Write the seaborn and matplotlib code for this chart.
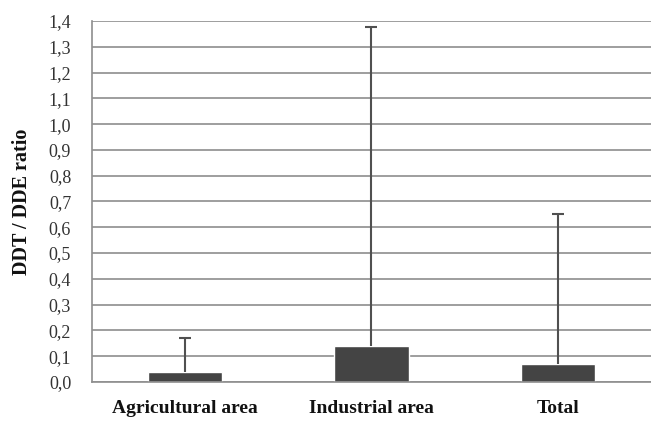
import numpy as np
import pandas as pd
import seaborn as sns
import matplotlib.pyplot as plt

# values
areas = ["Agricultural area", "Industrial area", "Total"]
ratio_mean = [0.04, 0.14, 0.07]
ratio_err_up = [0.13, 1.235, 0.58]   # plus-only error bars
ytick_vals = [0.0, 0.1, 0.2, 0.3, 0.4, 0.5, 0.6, 0.7, 0.8, 0.9, 1.0, 1.1, 1.2, 1.3, 1.4]
ytick_labels = ["0,0", "0,1", "0,2", "0,3", "0,4", "0,5", "0,6", "0,7",
                "0,8", "0,9", "1,0", "1,1", "1,2", "1,3", "1,4"]

df = pd.DataFrame({"area": areas, "ratio": ratio_mean})

sns.set_style("white")
plt.rcParams["font.family"] = ["Liberation Serif", "DejaVu Serif"]

fig = plt.figure(figsize=(6.51, 4.23), dpi=100)
ax = fig.add_axes([0.1413, 0.0969, 0.8587, 0.8535])

# gridlines behind the bars
for v in ytick_vals:
    ax.axhline(v, color="#8e8e8e", lw=1.2, zorder=0)

sns.barplot(data=df, x="area", y="ratio", color="#444444", width=0.4,
            errorbar=None, saturation=1, ax=ax, zorder=2)

# upper error bars only (uplims draws the bar upward, then swap arrow for a cap)
eb = ax.errorbar(np.arange(len(areas)), ratio_mean,
                 yerr=[np.zeros(len(areas)), ratio_err_up],
                 fmt="none", ecolor="#505050", elinewidth=1.5, capsize=4.5,
                 capthick=1.5, zorder=3)
for cap in eb[1]:
    if np.allclose(cap.get_ydata(), ratio_mean):
        cap.set_visible(False)

ax.set_xlim(-0.5, 2.5)
ax.set_ylim(0, 1.4)
ax.set_yticks(ytick_vals)
ax.set_yticklabels(ytick_labels, fontsize=13, color="#333333")
ax.tick_params(axis="y", length=0, pad=15)
ax.tick_params(axis="x", length=0, pad=13)
for lab in ax.get_xticklabels():
    lab.set_fontsize(14)
    lab.set_fontweight("bold")
    lab.set_color("#111111")

ax.set_xlabel("")
ax.set_ylabel("DDT / DDE ratio", fontsize=14.5, fontweight="bold", color="#111111",
              labelpad=12)

for s in ["top", "right"]:
    ax.spines[s].set_visible(False)
for s in ["left", "bottom"]:
    ax.spines[s].set_color("#8e8e8e")
    ax.spines[s].set_linewidth(1.2)

fig.savefig("out.png", dpi=100)
